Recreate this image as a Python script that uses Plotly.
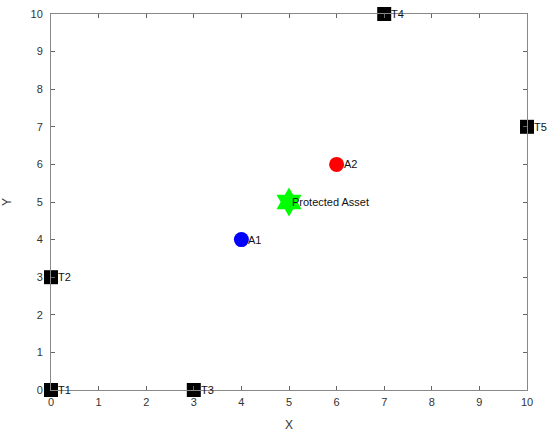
import plotly.graph_objects as go

target_names = ["T1", "T2", "T3", "T4", "T5"]
target_x = [0, 0, 3, 7, 10]
target_y = [0, 3, 0, 10, 7]

agent_names = ["A1", "A2"]
agent_x = [4, 6]
agent_y = [4, 6]
agent_colors = ["#0000ff", "#ff0000"]

asset_name = ["Protected Asset"]
asset_x = [5]
asset_y = [5]

tick_vals = list(range(0, 11))

fig = go.Figure()
fig.add_trace(go.Scatter(x=target_x, y=target_y, mode="markers",
                         marker=dict(symbol="square", size=14, color="black"),
                         cliponaxis=False, showlegend=False))
fig.add_trace(go.Scatter(x=agent_x, y=agent_y, mode="markers",
                         marker=dict(symbol="circle", size=15, color=agent_colors),
                         cliponaxis=False, showlegend=False))
fig.add_trace(go.Scatter(x=asset_x, y=asset_y, mode="markers",
                         marker=dict(symbol="hexagram", size=22, color="#00ff00"),
                         cliponaxis=False, showlegend=False))

font = dict(family="Liberation Sans, Arial, sans-serif", size=11, color="#111")
for names, xs, ys, shift in [(target_names, target_x, target_y, 5),
                             (agent_names, agent_x, agent_y, 5),
                             (asset_name, asset_x, asset_y, 1)]:
    for n, x, y in zip(names, xs, ys):
        fig.add_annotation(x=x, y=y, text=n, showarrow=False, xanchor="left",
                           yanchor="middle", xshift=shift, font=font)

axis_common = dict(range=[0, 10], tickvals=tick_vals, ticks="inside", ticklen=4,
                   tickcolor="#666", showline=True, linecolor="#888", linewidth=1,
                   mirror="ticks", showgrid=False, zeroline=False, automargin=False,
                   tickfont=dict(family="Liberation Sans, Arial, sans-serif", size=11, color="#333"))

fig.update_layout(
    width=550, height=432,
    margin=dict(l=51, r=23, t=14, b=42),
    paper_bgcolor="white", plot_bgcolor="white",
    xaxis=dict(title=dict(text="X", standoff=13,
                          font=dict(family="Liberation Sans, Arial, sans-serif", size=12, color="#333")),
               ticklabelstandoff=2, **axis_common),
    yaxis=dict(title=dict(text="Y", standoff=16,
                          font=dict(family="Liberation Sans, Arial, sans-serif", size=12, color="#333")),
               ticklabelstandoff=5, **axis_common),
)

fig.write_html("out.html", config={"displayModeBar": False},
               post_script="document.body.style.margin='0px';")
